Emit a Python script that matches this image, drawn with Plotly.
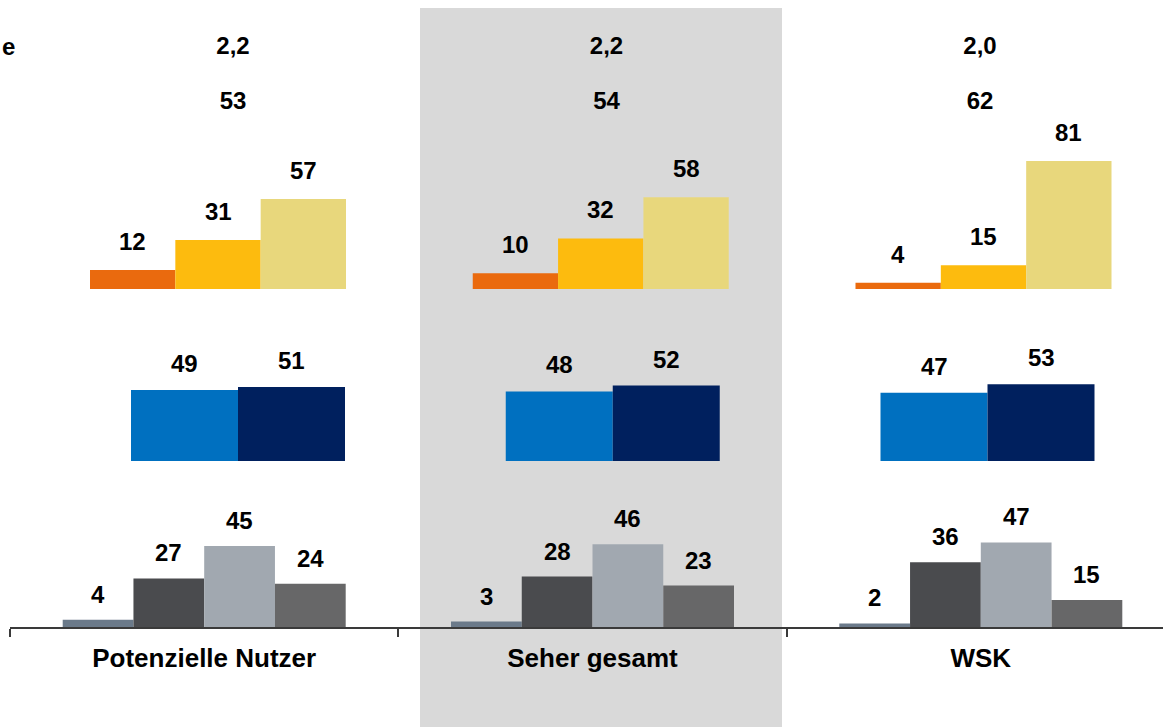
import plotly.graph_objects as go

# ---------------- data ----------------
categories = ["Potenzielle Nutzer", "Seher gesamt", "WSK"]

row1_label = "e"
row1_values = [2.2, 2.2, 2.0]
row2_values = [53, 54, 62]

orange_series = {
    "s1": [12, 10, 4],
    "s2": [31, 32, 15],
    "s3": [57, 58, 81],
}
blue_series = {
    "b1": [49, 48, 47],
    "b2": [51, 52, 53],
}
gray_series = {
    "g1": [4, 3, 2],
    "g2": [27, 28, 36],
    "g3": [45, 46, 47],
    "g4": [24, 23, 15],
}

orange_colors = ["#EA6A0E", "#FDBB0E", "#E8D77C"]
blue_colors = ["#0070C0", "#00205E"]
gray_colors = ["#6B7A8A", "#4A4B4E", "#A1A8B0", "#676768"]

# ---------------- geometry helpers ----------------
W, H = 1163, 727
ML = 10
PW = W - ML


def xrange_for(center0_px, spacing_px):
    left = (ML - center0_px) / spacing_px
    right = (W - center0_px) / spacing_px
    return [left, right]


def ydom(bottom_px, top_px):
    return [(H - bottom_px) / H, (H - top_px) / H]


def yrange_for(bottom_px, top_px, px_per_unit):
    return [0, (bottom_px - top_px) / px_per_unit]


fig = go.Figure()
annots = []
FONT = "Liberation Sans, Arial, sans-serif"
LBL = dict(family=FONT, size=24, color="#000000")


def add_row(series, colors, xa, ya, group_units, yshift):
    n = len(series)
    w = group_units / n
    for i, (name, vals) in enumerate(series.items()):
        off = -group_units / 2 + i * w
        fig.add_trace(go.Bar(
            x=categories, y=vals, width=w, offset=off, name=name,
            marker=dict(color=colors[i], line=dict(width=0)),
            xaxis=xa, yaxis=ya, showlegend=False, hoverinfo="x+y",
        ))
        for j, v in enumerate(vals):
            annots.append(dict(
                x=j + off + w / 2, y=v, xref=xa, yref=ya,
                text="<b>%d</b>" % v, showarrow=False,
                yanchor="bottom", yshift=yshift, font=LBL,
            ))


# gray row (bottom, visible axis)
add_row(gray_series, gray_colors, "x", "y", 283 / 388.3, 10)
# blue row
add_row(blue_series, blue_colors, "x2", "y2", 214 / 374.75, 11)
# orange row
add_row(orange_series, orange_colors, "x3", "y3", 256 / 382.75, 13)

# text rows (top)
fig.add_trace(go.Scatter(
    x=categories, y=[1, 1, 1], mode="text",
    text=["<b>%s</b>" % ("%.1f" % v).replace(".", ",") for v in row1_values],
    textfont=LBL, xaxis="x4", yaxis="y4", showlegend=False, hoverinfo="skip",
))
fig.add_trace(go.Scatter(
    x=categories, y=[0, 0, 0], mode="text",
    text=["<b>%d</b>" % v for v in row2_values],
    textfont=LBL, xaxis="x4", yaxis="y4", showlegend=False, hoverinfo="skip",
))

annots.append(dict(
    x=-ML / PW, y=(H - 47) / H, xref="paper", yref="paper", xanchor="left",
    yanchor="middle", text="<b>%s</b>" % row1_label, showarrow=False, font=LBL,
))

hidden = dict(visible=False, fixedrange=True)

fig.update_layout(
    width=W, height=H,
    margin=dict(l=ML, r=0, t=0, b=0),
    paper_bgcolor="#FFFFFF",
    plot_bgcolor="rgba(0,0,0,0)",
    barmode="overlay",
    font=dict(family=FONT, color="#000000"),
    annotations=annots,
    shapes=[dict(
        type="rect", xref="paper", yref="paper",
        x0=(420 - ML) / PW, x1=(782 - ML) / PW,
        y0=-0.01, y1=(H - 8) / H,
        fillcolor="#D9D9D9", line=dict(width=0), layer="below",
    )],
    xaxis=dict(
        type="category", categoryorder="array", categoryarray=categories,
        range=xrange_for(204.2, 388.3), anchor="y",
        showline=True, linecolor="#3A3A3A", linewidth=2,
        ticks="outside", ticklen=8, tickwidth=2, tickcolor="#3A3A3A",
        tickson="boundaries", showgrid=False, zeroline=False,
        ticklabelstandoff=7,
        tickfont=dict(family=FONT, size=26, color="#000000"),
        tickprefix="<b>", ticksuffix="</b>", fixedrange=True,
    ),
    yaxis=dict(domain=ydom(627, 490), range=yrange_for(627, 490, 1.8), **hidden),
    xaxis2=dict(type="category", categoryorder="array", categoryarray=categories,
                range=xrange_for(238, 374.75), anchor="y2", **hidden),
    yaxis2=dict(domain=ydom(461, 330), range=yrange_for(461, 330, 1.45), **hidden),
    xaxis3=dict(type="category", categoryorder="array", categoryarray=categories,
                range=xrange_for(218, 382.75), anchor="y3", **hidden),
    yaxis3=dict(domain=ydom(289, 120), range=yrange_for(289, 120, 1.58), **hidden),
    xaxis4=dict(type="category", categoryorder="array", categoryarray=categories,
                range=xrange_for(233, 373.5), anchor="y4", **hidden),
    yaxis4=dict(domain=ydom(130, 20), range=[-0.5, 1.5], **hidden),
)

fig.write_html(
    "out.html",
    config={"displayModeBar": False},
    post_script="document.body.style.margin='0px';document.body.style.overflow='hidden';",
)
